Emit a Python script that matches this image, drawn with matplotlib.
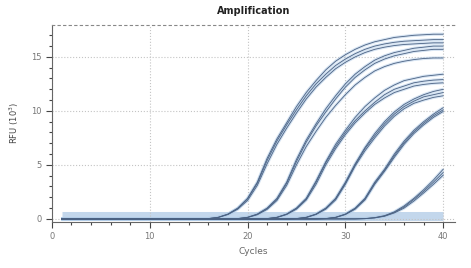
import numpy as np
import matplotlib.pyplot as plt

# cycle numbers and RFU (x1000) per cycle
cycles = list(range(1, 41))

z = 0.0
group_a = [
    [z] * 15 + [0.03, 0.15, 0.45, 1.0, 1.9, 3.4, 5.6, 7.4, 8.9, 10.4, 11.7, 12.8, 13.8, 14.6, 15.2,
                15.7, 16.1, 16.4, 16.6, 16.8, 16.9, 17.0, 17.05, 17.1, 17.1],
    [z] * 15 + [0.03, 0.14, 0.43, 0.95, 1.85, 3.3, 5.4, 7.2, 8.7, 10.1, 11.4, 12.5, 13.4, 14.2, 14.8,
                15.3, 15.7, 16.0, 16.2, 16.35, 16.45, 16.5, 16.55, 16.6, 16.6],
    [z] * 15 + [0.02, 0.12, 0.4, 0.9, 1.7, 3.1, 5.1, 6.9, 8.4, 9.8, 11.1, 12.2, 13.1, 13.9, 14.5,
                15.0, 15.4, 15.7, 15.9, 16.05, 16.15, 16.2, 16.25, 16.3, 16.3],
]
group_b = [
    [z] * 18 + [0.03, 0.15, 0.45, 1.0, 1.9, 3.4, 5.5, 7.3, 8.8, 10.2, 11.4, 12.5, 13.4, 14.1,
                14.7, 15.1, 15.4, 15.6, 15.8, 15.9, 16.0, 16.0],
    [z] * 18 + [0.03, 0.14, 0.42, 0.95, 1.8, 3.3, 5.3, 7.1, 8.6, 9.9, 11.1, 12.2, 13.1, 13.8,
                14.4, 14.8, 15.1, 15.3, 15.5, 15.6, 15.7, 15.7],
    [z] * 18 + [0.02, 0.12, 0.38, 0.88, 1.7, 3.1, 5.0, 6.7, 8.1, 9.4, 10.5, 11.5, 12.4, 13.1,
                13.7, 14.1, 14.4, 14.6, 14.75, 14.85, 14.9, 14.9],
]
group_c = [
    [z] * 21 + [0.03, 0.15, 0.45, 1.0, 1.9, 3.5, 5.3, 6.9, 8.2, 9.4, 10.4, 11.2, 11.9, 12.4,
                12.8, 13.0, 13.2, 13.3, 13.4],
    [z] * 21 + [0.03, 0.14, 0.43, 0.97, 1.85, 3.4, 5.2, 6.7, 8.0, 9.1, 10.0, 10.8, 11.5, 12.0,
                12.3, 12.6, 12.75, 12.85, 12.9],
    [z] * 21 + [0.02, 0.12, 0.4, 0.9, 1.75, 3.2, 5.0, 6.5, 7.8, 8.9, 9.8, 10.6, 11.2, 11.7,
                12.0, 12.3, 12.45, 12.55, 12.6],
]
group_d = [
    [z] * 24 + [0.03, 0.15, 0.45, 1.0, 1.9, 3.4, 5.1, 6.6, 7.9, 9.0, 9.9, 10.6, 11.1, 11.5, 11.8, 12.0],
    [z] * 24 + [0.03, 0.14, 0.43, 0.97, 1.85, 3.3, 5.0, 6.5, 7.7, 8.8, 9.7, 10.4, 10.9, 11.3, 11.5, 11.7],
    [z] * 24 + [0.02, 0.12, 0.4, 0.9, 1.75, 3.2, 4.9, 6.3, 7.5, 8.6, 9.5, 10.2, 10.7, 11.0, 11.25, 11.4],
]
group_e = [
    [z] * 27 + [0.03, 0.15, 0.45, 1.0, 1.9, 3.4, 4.6, 6.0, 7.2, 8.2, 9.0, 9.7, 10.3],
    [z] * 27 + [0.03, 0.14, 0.42, 0.95, 1.85, 3.3, 4.5, 5.85, 7.05, 8.05, 8.85, 9.55, 10.1],
    [z] * 27 + [0.02, 0.12, 0.4, 0.9, 1.75, 3.2, 4.4, 5.7, 6.9, 7.9, 8.7, 9.4, 9.95],
]
group_f = [
    [z] * 31 + [0.03, 0.12, 0.3, 0.65, 1.2, 1.9, 2.7, 3.6, 4.6],
    [z] * 31 + [0.02, 0.1, 0.27, 0.6, 1.1, 1.8, 2.55, 3.4, 4.3],
    [z] * 31 + [0.02, 0.09, 0.24, 0.55, 1.0, 1.65, 2.4, 3.2, 4.05],
]
groups = [group_a, group_b, group_c, group_d, group_e, group_f]
threshold = 0.3

fig = plt.figure(figsize=(4.71, 2.68), dpi=100)
ax = fig.add_axes([0.110, 0.172, 0.856, 0.735])

# threshold band
ax.hlines(threshold, cycles[0], cycles[-1], color='#c3d7ec', lw=6.5, zorder=1)

for grp in groups:
    for curve in grp:
        ax.plot(cycles, curve, color='#b3cde8', lw=2.2, alpha=0.55, zorder=2,
                solid_capstyle='butt')
for grp in groups:
    for curve in grp:
        ax.plot(cycles, curve, color='#4b6283', lw=0.6, zorder=3)

ax.set_xlim(0, 41.2)
ax.set_ylim(-0.28, 17.96)
ax.set_xticks([0, 10, 20, 30, 40])
ax.set_xticks(np.arange(2, 41, 2), minor=True)
ax.set_yticks([0, 5, 10, 15])
ax.set_yticks(np.arange(1, 18, 1), minor=True)
ax.tick_params(which='both', direction='out', colors='#444444', labelcolor='#777777',
               labelsize=6, width=0.8)
ax.tick_params(which='major', length=4)
ax.tick_params(which='minor', length=2.5)

ax.grid(True, which='major', color='#c4c4c4', linestyle=':', lw=0.8)
ax.spines['right'].set_visible(False)
ax.spines['top'].set_linestyle((0, (2, 3)))
ax.spines['top'].set_color('#888888')
for s in ('left', 'bottom'):
    ax.spines[s].set_color('#666666')
    ax.spines[s].set_linewidth(0.8)

ax.set_title('Amplification', fontsize=7, fontweight='bold', pad=8, color='#222222')
ax.set_xlabel('Cycles', fontsize=6.5, color='#666666', labelpad=4)
ax.set_ylabel('RFU (10$^{3}$)', fontsize=6, color='#444444', labelpad=7)

fig.savefig('out.png', dpi=100)
